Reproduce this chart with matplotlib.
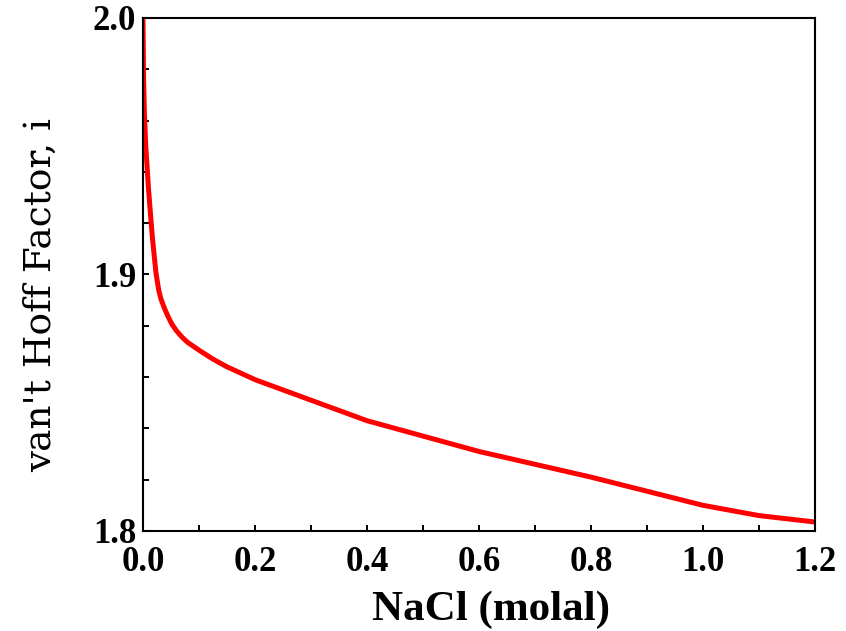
import matplotlib
matplotlib.use("Agg")
import matplotlib.pyplot as plt
from matplotlib.ticker import MultipleLocator, FormatStrFormatter

# data
molality = [0.0, 0.001, 0.0025, 0.005, 0.01, 0.014, 0.017, 0.023, 0.028, 0.032,
            0.038, 0.045, 0.052, 0.06, 0.07, 0.08, 0.1, 0.125, 0.15, 0.2, 0.3,
            0.4, 0.5, 0.6, 0.7, 0.8, 0.9, 1.0, 1.1, 1.2]
vant_hoff = [2.0, 1.977, 1.963, 1.950, 1.933, 1.922, 1.914, 1.901, 1.894, 1.8905,
             1.887, 1.8835, 1.8805, 1.878, 1.8755, 1.8735, 1.8705, 1.867, 1.864,
             1.859, 1.851, 1.843, 1.837, 1.831, 1.826, 1.821, 1.8155, 1.810,
             1.806, 1.8035]

fig = plt.figure(figsize=(8.46, 6.31), dpi=100)
ax = fig.add_axes([0.169, 0.1585, 0.7944, 0.813])

ax.plot(molality, vant_hoff, color="red", lw=3.6)

ax.set_xlim(0, 1.2)
ax.set_ylim(1.8, 2.0)
ax.xaxis.set_major_locator(MultipleLocator(0.2))
ax.xaxis.set_minor_locator(MultipleLocator(0.1))
ax.yaxis.set_major_locator(MultipleLocator(0.1))
ax.yaxis.set_minor_locator(MultipleLocator(0.02))
ax.xaxis.set_major_formatter(FormatStrFormatter("%.1f"))
ax.yaxis.set_major_formatter(FormatStrFormatter("%.1f"))

ax.tick_params(which="both", direction="in", top=False, right=False,
               width=1.4, color="black")
ax.tick_params(which="major", length=4.5)
ax.tick_params(which="minor", length=4)
ax.tick_params(axis="x", which="major", pad=11)
ax.tick_params(axis="y", which="major", pad=5)
for lab in ax.get_xticklabels() + ax.get_yticklabels():
    lab.set_fontfamily("Liberation Serif")
    lab.set_fontweight("bold")
    lab.set_fontsize(25)

for sp in ax.spines.values():
    sp.set_linewidth(1.5)
    sp.set_color("black")

ax.set_xlabel("NaCl (molal)", fontfamily="Liberation Serif", fontweight="bold",
              fontsize=31)
ax.xaxis.set_label_coords(0.518, -0.116)
ax.set_ylabel("van't Hoff Factor, i", fontfamily="DejaVu Serif", fontsize=27)
ax.yaxis.set_label_coords(-0.125, 0.46)

fig.savefig("out.png", dpi=100)
